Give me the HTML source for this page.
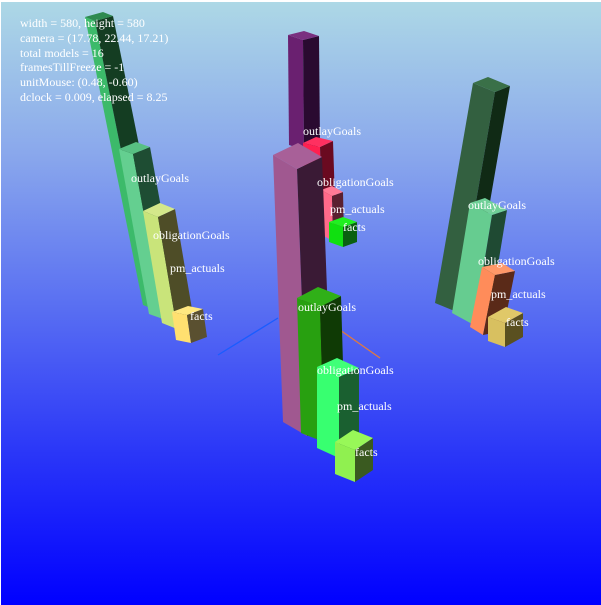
<!DOCTYPE html>
<html><head><meta charset="utf-8"><style>
html,body{margin:0;padding:0;background:#fff;}
#c{position:absolute;left:1px;top:2px;width:600px;height:603px;background:linear-gradient(#add8e6 0%,#8aa8ec 25%,#5a70f2 50%,#2a36f8 75%,#0000ff 100%);}
svg{position:absolute;left:0;top:0;}
text{font-family:"Liberation Serif",serif;fill:#fff;font-size:12px;}
</style></head><body>
<div id="c"></div>
<svg width="601" height="605" viewBox="0 0 601 605">
<!-- axis lines -->
<line x1="218" y1="355" x2="278" y2="318" stroke="#1a5cff" stroke-width="1.3"/>
<line x1="340" y1="330" x2="380" y2="358" stroke="#e07a40" stroke-width="1.3"/>

<!-- Left group -->
<polygon points="85,17 95,21 153,309 143,305" fill="#3cba6a"/>
<polygon points="95,21 113,16 171,304 153,309" fill="#143d22"/>
<polygon points="85,17 103,12 113,16 95,21" fill="#2e8a50"/>

<polygon points="119,149 133,154 163,319 149,314" fill="#64cf90"/>
<polygon points="133,154 150,147 180,312 163,319" fill="#1e4d33"/>
<polygon points="119,149 136,142 150,147 133,154" fill="#58c083"/>

<polygon points="143,211 158,217 177,329 162,323" fill="#c9e47a"/>
<polygon points="158,217 175,209 194,321 177,329" fill="#4e4d27"/>
<polygon points="143,211 160,203 175,209 158,217" fill="#d4e88a"/>

<polygon points="172,312 187,315 191,343 176,340" fill="#ffe070"/>
<polygon points="187,315 203,309 207,337 191,343" fill="#5a5030"/>
<polygon points="172,312 188,306 203,309 187,315" fill="#ffe880"/>

<!-- Center back group -->
<polygon points="288,35 303,40 304,150 289,145" fill="#6a2070"/>
<polygon points="303,40 319,36 320,146 304,150" fill="#2a0a30"/>
<polygon points="288,35 304,31 319,36 303,40" fill="#7a3080"/>

<polygon points="303,143 320,147 322,207 305,203" fill="#ff2050"/>
<polygon points="320,147 333,141 335,201 322,207" fill="#6a0a20"/>
<polygon points="303,143 316,137 333,141 320,147" fill="#ff3060"/>

<polygon points="321,190 332,196 333,241 322,235" fill="#ff6a8a"/>
<polygon points="332,196 343,192 344,237 333,241" fill="#5a2030"/>
<polygon points="321,190 332,186 343,192 332,196" fill="#ff7a95"/>

<polygon points="329,222 343,227 343,247 329,242" fill="#10e010"/>
<polygon points="343,227 357,222 357,242 343,247" fill="#0a6010"/>
<polygon points="329,222 343,217 357,222 343,227" fill="#20f020"/>

<!-- Center front group -->
<polygon points="273,155 297,169 307,436 283,422" fill="#a05890"/>
<polygon points="297,169 322,157 332,424 307,436" fill="#3a1a35"/>
<polygon points="273,155 298,143 322,157 297,169" fill="#a86098"/>

<polygon points="297,298 320,307 324,442 301,433" fill="#28a010"/>
<polygon points="320,307 341,296 345,431 324,442" fill="#0f3a05"/>
<polygon points="297,298 318,287 341,296 320,307" fill="#30b018"/>

<polygon points="317,367 339,377 339,458 317,448" fill="#38ff70"/>
<polygon points="339,377 359,368 359,449 339,458" fill="#1a6030"/>
<polygon points="317,367 337,358 359,368 339,377" fill="#40ff78"/>

<polygon points="335,442 355,450 355,482 335,474" fill="#90f050"/>
<polygon points="355,450 373,438 373,470 355,482" fill="#3a5a20"/>
<polygon points="335,442 353,430 373,438 355,450" fill="#98f858"/>

<!-- Right group -->
<polygon points="473,83 495,92 457,312 435,303" fill="#336040"/>
<polygon points="495,92 510,86 472,306 457,312" fill="#102a15"/>
<polygon points="473,83 488,77 510,86 495,92" fill="#3a7048"/>

<polygon points="470,203 492,215 474,325 452,313" fill="#66cc90"/>
<polygon points="492,215 507,210 489,320 474,325" fill="#1f4a33"/>
<polygon points="470,203 485,198 507,210 492,215" fill="#70d098"/>

<polygon points="482,267 495,275 483,335 470,327" fill="#ff8c5a"/>
<polygon points="495,275 515,271 503,331 483,335" fill="#5a2a18"/>
<polygon points="482,267 502,263 515,271 495,275" fill="#ff9868"/>

<polygon points="488,317 505,323 505,347 488,341" fill="#d8c060"/>
<polygon points="505,323 523,313 523,337 505,347" fill="#5a5020"/>
<polygon points="488,317 506,307 523,313 505,323" fill="#e0c868"/>

<!-- labels -->
<text x="131" y="182">outlayGoals</text>
<text x="153" y="239">obligationGoals</text>
<text x="170" y="272">pm_actuals</text>
<text x="190" y="320">facts</text>

<text x="303" y="135">outlayGoals</text>
<text x="317" y="186">obligationGoals</text>
<text x="330" y="213">pm_actuals</text>
<text x="343" y="231">facts</text>

<text x="298" y="311">outlayGoals</text>
<text x="317" y="374">obligationGoals</text>
<text x="337" y="410">pm_actuals</text>
<text x="355" y="456">facts</text>

<text x="468" y="209">outlayGoals</text>
<text x="478" y="265">obligationGoals</text>
<text x="491" y="298">pm_actuals</text>
<text x="506" y="326">facts</text>

<!-- info -->
<text x="20" y="27">width = 580, height = 580</text>
<text x="20" y="42">camera = (17.78, 22.44, 17.21)</text>
<text x="20" y="57">total models = 16</text>
<text x="20" y="71">framesTillFreeze = -1</text>
<text x="20" y="86">unitMouse: (0.48, -0.60)</text>
<text x="20" y="101">dclock = 0.009, elapsed = 8.25</text>
</svg>
</body></html>
